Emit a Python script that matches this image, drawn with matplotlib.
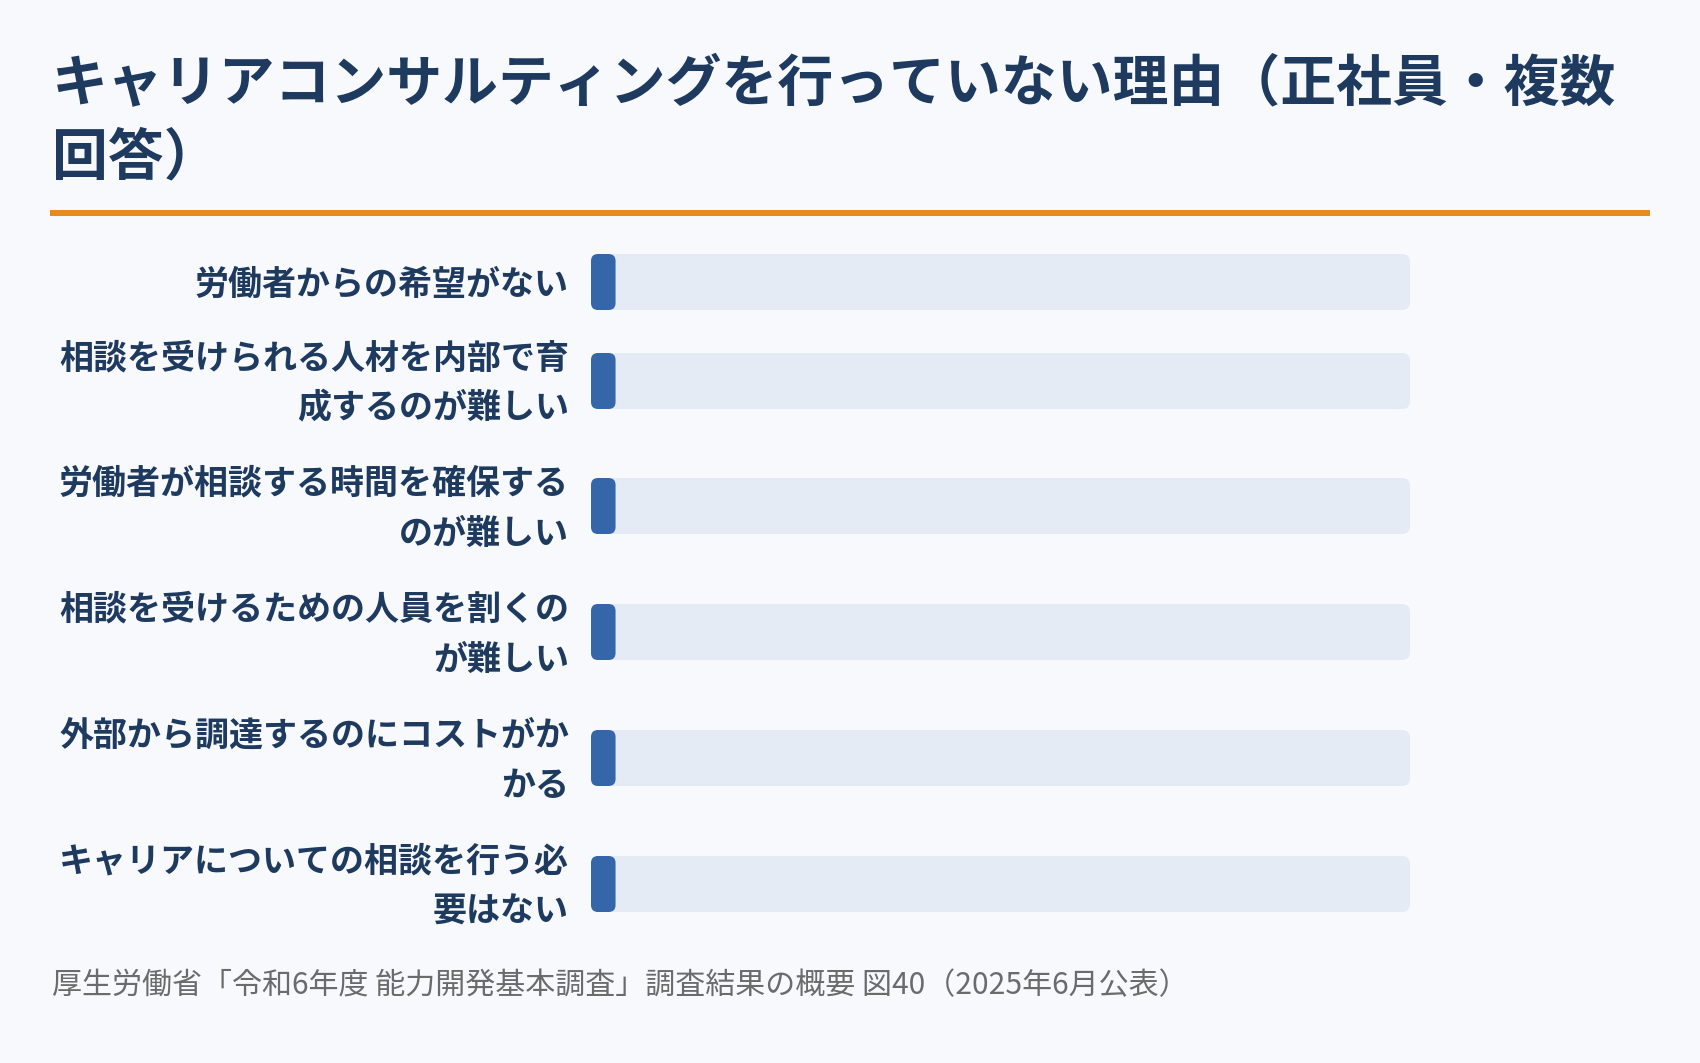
#!/bin/env python3
# file : plot.py
"""Barres horizontales : raisons de ne pas faire de consultation de carrière."""
import matplotlib
matplotlib.use("Agg")
import matplotlib.pyplot as plt
from matplotlib.patches import FancyBboxPatch

plt.rcParams['font.family'] = ['Noto Sans CJK JP', 'DejaVu Sans']

title = "キャリアコンサルティングを行っていない理由（正社員・複数回答）"
labels = ["労働者からの希望がない",
          "相談を受けられる人材を内部で育成するのが難しい",
          "労働者が相談する時間を確保するのが難しい",
          "相談を受けるための人員を割くのが難しい",
          "外部から調達するのにコストがかかる",
          "キャリアについての相談を行う必要はない"]
values = [3, 3, 3, 3, 3, 3]
scale_max = 100
source = "厚生労働省「令和6年度 能力開発基本調査」調査結果の概要 図40（2025年6月公表）"

BG = "#F7F9FD"
NAVY = "#1E3A5F"
BAR = "#3566A9"
TRACK = "#E4EBF4"
ORANGE = "#E68C1E"
GREY = "#6B6B6B"

W, H = 1700, 1063


def chunks(s, n):
    """coupe une chaine tous les n caracteres"""
    return [s[i:i + n] for i in range(0, len(s), n)]


def fy(px):
    """pixel depuis le haut -> fraction de figure"""
    return 1 - px / H


fig = plt.figure(figsize=(W / 100, H / 100), dpi=100, facecolor=BG)

# titre
for k, line in enumerate(chunks(title, 28)):
    fig.text(52 / W, fy(101 + 73 * k), line, fontsize=40.2, fontweight='bold',
             color=NAVY, ha='left', va='baseline')

# ligne orange
fig.add_artist(plt.Line2D([50 / W, 1650 / W], [fy(213), fy(213)],
                          color=ORANGE, linewidth=4.3, solid_capstyle='butt'))

# axes des barres (y en pixels, x en pourcentage)
track_l, track_r = 591, 1410
ax = fig.add_axes([track_l / W, 0, (track_r - track_l) / W, 1])
ax.set_xlim(0, scale_max)
ax.set_ylim(H, 0)
ax.axis('off')
ax.patch.set_alpha(0)

row_y = [282, 381, 506, 632, 758, 884]
bar_h = 56
aspect = ((track_r - track_l) / scale_max)  # pixels par unite x

for yc, lab, v in zip(row_y, labels, values):
    track = FancyBboxPatch((0, yc - bar_h / 2), scale_max, bar_h,
                           boxstyle="round,pad=0,rounding_size=%f" % (8 / aspect),
                           mutation_aspect=aspect, facecolor=TRACK,
                           edgecolor='none')
    ax.add_patch(track)
    bar = FancyBboxPatch((0, yc - bar_h / 2), v, bar_h,
                         boxstyle="round,pad=0,rounding_size=%f" % (7 / aspect),
                         mutation_aspect=aspect, facecolor=BAR,
                         edgecolor='none')
    ax.add_patch(bar)

    lines = chunks(lab, 15)
    n = len(lines)
    for k, line in enumerate(lines):
        yl = yc + (k - (n - 1) / 2) * 50
        fig.text(569 / W, fy(yl + 12.5), line, fontsize=24.5, fontweight='bold',
                 color=NAVY, ha='right', va='baseline')

# source
fig.text(52 / W, fy(994), source, fontsize=21.6, color=GREY,
         ha='left', va='baseline')

fig.savefig("out.png", dpi=100, facecolor=BG)
